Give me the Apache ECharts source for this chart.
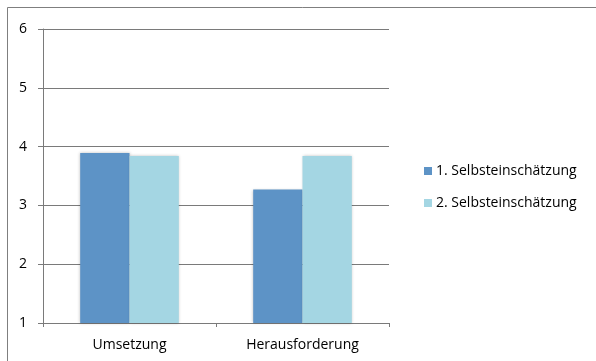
<!DOCTYPE html>
<html>
<head>
<meta charset="utf-8">
<script src="https://cdn.jsdelivr.net/npm/echarts@6/dist/echarts.min.js"></script>
<style>
  html, body { margin: 0; padding: 0; background: #fff; }
  #main { width: 596px; height: 361px; }
</style>
</head>
<body>
<div id="main"></div>
<script>
// Daten
var categories = ['Umsetzung', 'Herausforderung'];
var seriesNames = ['1. Selbsteinschätzung', '2. Selbsteinschätzung'];
var erste = [3.89, 3.27];
var zweite = [3.84, 3.84];
var yTicks = [1, 2, 3, 4, 5, 6];

var myChart = echarts.init(document.getElementById('main'));
var font = 'Open Sans';

var option = {
  animation: false,
  textStyle: { fontFamily: font },
  graphic: [{
    type: 'rect',
    shape: { x: 7.5, y: 7.5, width: 700, height: 500 },
    style: { fill: 'none', stroke: '#7f7f7f', lineWidth: 1 },
    silent: true
  }],
  grid: { left: 43, right: 207, top: 29, bottom: 38 },
  legend: {
    orient: 'vertical',
    left: 419,
    top: 159,
    itemWidth: 8,
    itemHeight: 8,
    itemGap: 18,
    icon: 'rect',
    textStyle: { fontFamily: font, fontSize: 14, color: '#000', padding: [0, 0, 0, -1] },
    data: seriesNames
  },
  xAxis: {
    type: 'category',
    data: categories,
    axisLine: { lineStyle: { color: '#7a7a7a' } },
    axisTick: { show: true, alignWithLabel: false, length: 4, lineStyle: { color: '#7a7a7a' } },
    axisLabel: { color: '#000', fontSize: 14, margin: 15, fontFamily: font }
  },
  yAxis: {
    type: 'value',
    min: yTicks[0],
    max: yTicks[yTicks.length - 1],
    interval: 1,
    axisLine: { show: true, lineStyle: { color: '#7a7a7a' } },
    axisTick: { show: true, length: 5, lineStyle: { color: '#7a7a7a' } },
    axisLabel: { color: '#000', fontSize: 14, margin: 16, fontFamily: font },
    splitLine: { lineStyle: { color: '#7a7a7a' } }
  },
  series: [
    {
      name: seriesNames[0],
      type: 'bar',
      data: erste,
      barGap: '0%',
      barCategoryGap: '43%',
      itemStyle: { color: '#5d93c6', shadowBlur: 3, shadowColor: 'rgba(0,0,0,0.25)' }
    },
    {
      name: seriesNames[1],
      type: 'bar',
      data: zweite,
      barGap: '0%',
      barCategoryGap: '43%',
      itemStyle: { color: '#a4d6e3', shadowBlur: 3, shadowColor: 'rgba(0,0,0,0.25)' }
    }
  ]
};

myChart.setOption(option);
</script>
</body>
</html>
